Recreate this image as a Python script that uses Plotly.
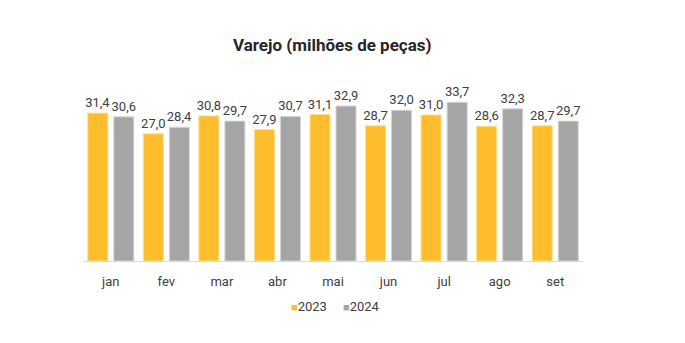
import plotly.graph_objects as go

months = ["jan", "fev", "mar", "abr", "mai", "jun", "jul", "ago", "set"]
v2023 = [31.4, 27.0, 30.8, 27.9, 31.1, 28.7, 31.0, 28.6, 28.7]
v2024 = [30.6, 28.4, 29.7, 30.7, 32.9, 32.0, 33.7, 32.3, 29.7]
series = [("2023", v2023, "#FDBD2C", "#FFE08A"), ("2024", v2024, "#A5A5A5", "#D6D6D6")]

fig = go.Figure()
for name, vals, col, lcol in series:
    fig.add_trace(go.Bar(x=months, y=vals, name=name,
                         marker=dict(color=col, line=dict(color=lcol, width=1)),
                         texttemplate="%{y:.1f}", textposition="outside", cliponaxis=False,
                         constraintext="none",
                         textfont=dict(size=13, color="#404040", family="Roboto"),
                         showlegend=False))

legend_text = "&nbsp;&nbsp;&nbsp;&nbsp;&nbsp;".join(
    f"<span style='color:{col};font-size:11px'>■</span>{name}" for name, _, col, _ in series)
fig.add_annotation(text=legend_text, xref="paper", yref="paper", x=0.505, y=-0.255,
                   xanchor="center", yanchor="middle", showarrow=False,
                   font=dict(size=13, color="#404040", family="Roboto"))

fig.update_layout(
    width=685, height=343,
    margin=dict(l=83, r=102, t=82, b=82),
    paper_bgcolor="white", plot_bgcolor="white",
    separators=",.",
    bargap=0.063, bargroupgap=0.23,
    font=dict(family="Roboto", color="#404040", size=13),
    title=dict(text="<b>Varejo (milhões de peças)</b>", x=0.485, xanchor="center",
               y=1 - 45 / 343, yanchor="middle",
               font=dict(size=17, color="#262626", family="Roboto")),
    xaxis=dict(showline=True, linecolor="#D9D9D9", linewidth=1, ticks="outside",
               ticklen=8, tickcolor="rgba(0,0,0,0)",
               tickfont=dict(size=13, color="#404040")),
    yaxis=dict(range=[0, 38], visible=False, showgrid=False),
)

fig.write_html("out.html")
